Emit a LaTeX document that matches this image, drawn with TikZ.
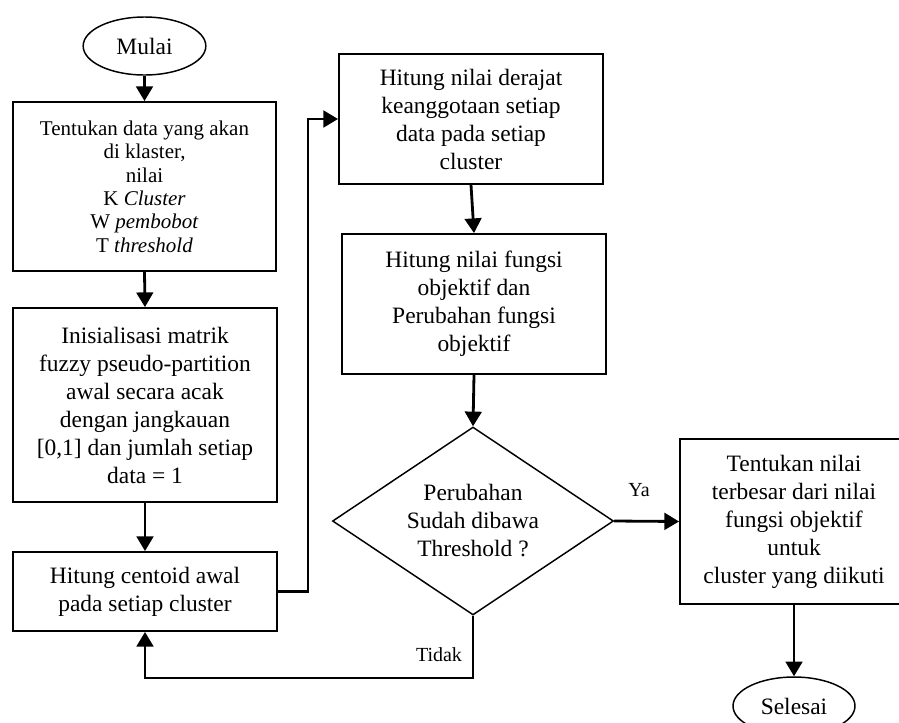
\documentclass[tikz,border=0pt]{standalone}
\usepackage{fontspec}
\setmainfont{Liberation Serif}
\usetikzlibrary{shapes.geometric,arrows.meta}
\begin{document}
\begin{tikzpicture}[x=0.75pt,y=-0.75pt,
  box/.style={draw,line width=1.4pt,rectangle,inner sep=0pt,align=center,font=\fontsize{17.6}{21}\selectfont},
  term/.style={draw,line width=1.1pt,ellipse,inner sep=0pt,minimum width=92pt,minimum height=43.5pt,font=\fontsize{17.6}{21}\selectfont},
  decision/.style={draw,line width=1.1pt,diamond,inner sep=0pt,shape aspect=1.5,align=center,font=\fontsize{17.6}{21}\selectfont},
  arr/.style={line width=2.1pt,-{Triangle[length=11pt,width=12.5pt]}},
  lab/.style={font=\fontsize{15}{18}\selectfont,inner sep=0pt}]
\useasboundingbox (0,0) rectangle (899,722);
\clip (0,0) rectangle (899,722);
\fill[white] (0,0) rectangle (899,722);

\node[term] (mulai) at (144.5,46) {Mulai};
\node[box,minimum width=197.25pt,minimum height=126.75pt,font=\fontsize{15.75}{17.5}\selectfont] (b1) at (144.5,186.5)
  {Tentukan data yang akan\\di klaster,\\nilai\\K \textit{Cluster}\\W \textit{pembobot}\\T \textit{threshold}};
\node[box,minimum width=198pt,minimum height=145.5pt] (b2) at (145,405)
  {Inisialisasi matrik\\fuzzy pseudo-partition\\awal secara acak\\dengan jangkauan\\{[0,1]} dan jumlah setiap\\data = 1};
\node[box,minimum width=198pt,minimum height=59.25pt] (b3) at (145,591.5)
  {Hitung centoid awal\\pada setiap cluster};
\node[box,minimum width=198pt,minimum height=97.5pt] (b4) at (471,119)
  {Hitung nilai derajat\\keanggotaan setiap\\data pada setiap\\cluster};
\node[box,minimum width=198pt,minimum height=105pt] (b5) at (474,304)
  {Hitung nilai fungsi\\objektif dan\\Perubahan fungsi\\objektif};
\node[decision,minimum width=210.75pt,minimum height=141pt] (dec) at (473,521)
  {Perubahan\\Sudah dibawa\\Threshold ?};
\node[box,minimum width=171pt,minimum height=123.75pt] (b6) at (794,521.5)
  {Tentukan nilai\\terbesar dari nilai\\fungsi objektif\\untuk\\cluster yang diikuti};
\node[term,minimum width=91.5pt] (selesai) at (794,706) {Selesai};

\node[lab] (ya) at (639,490) {Ya};
\node[lab] (tidak) at (439,655) {Tidak};

\draw[arr] (mulai.south) -- (b1.north);
\draw[arr] (b1.south) -- (b2.north);
\draw[arr] (b2.south) -- (b3.north);
\coordinate (c1) at (308,591.5);
\draw[arr] (b3.east) -- (c1) |- (b4.west);
\draw[arr] (b4.south) -- (b5.north);
\draw[arr] (b5.south) -- (dec.north);
\draw[arr] (dec.east) -- (b6.west);
\draw[arr] (b6.south) -- (selesai.north);
\coordinate (c2) at (473,678);
\draw[arr] (dec.south) -- (c2) -| (b3.south);
\end{tikzpicture}
\end{document}
